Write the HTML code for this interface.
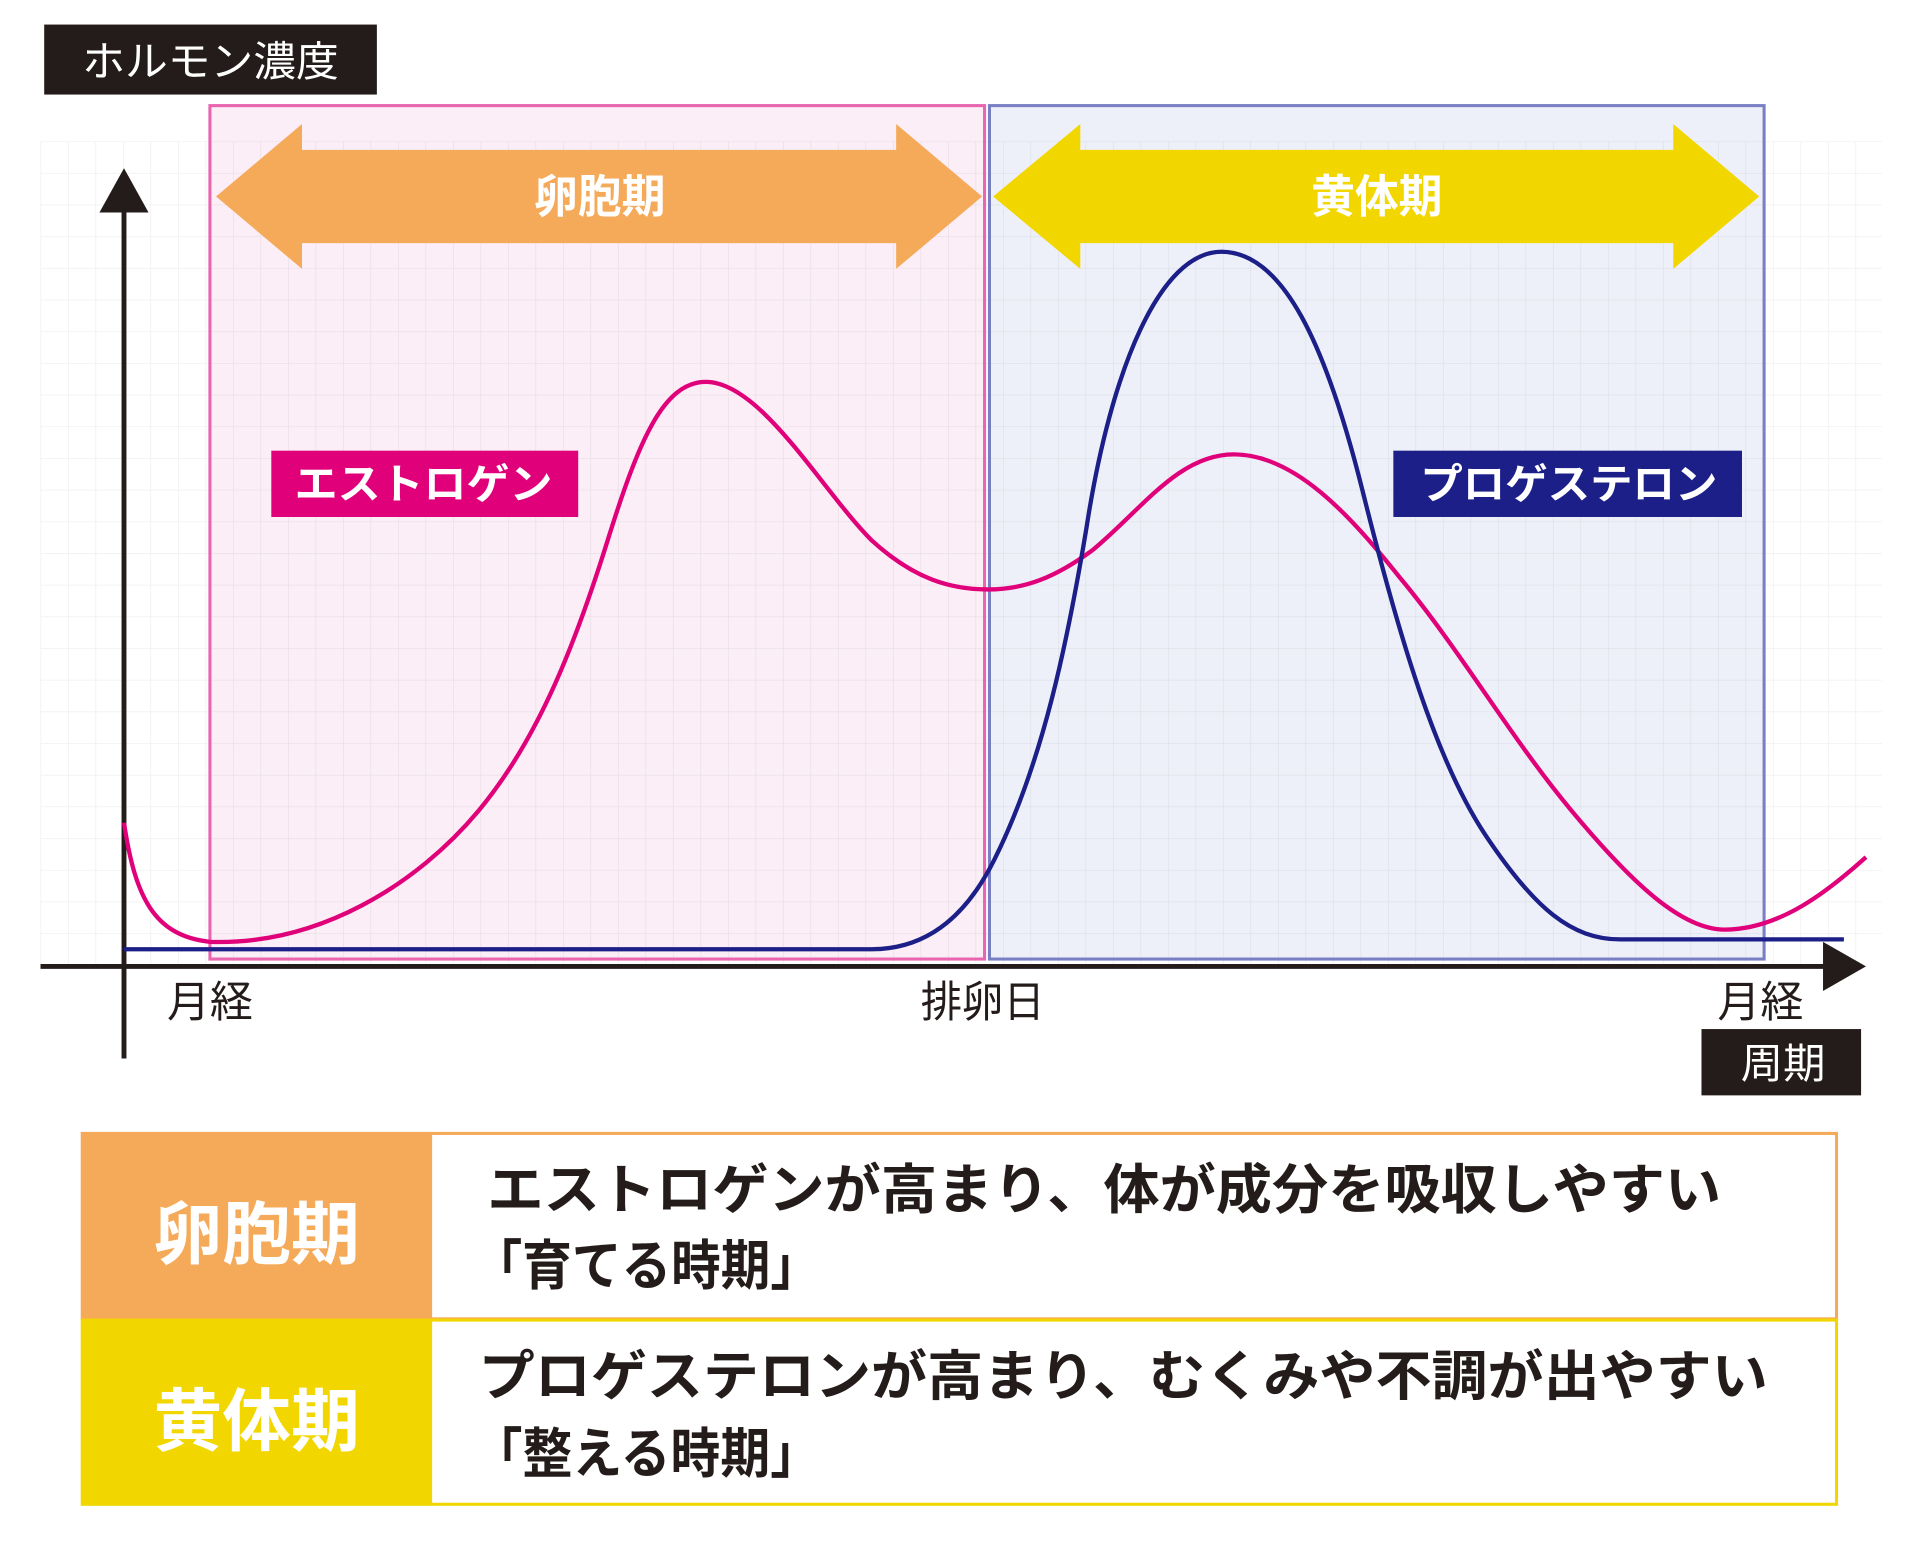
<!DOCTYPE html>
<html><head><meta charset="utf-8"><style>html,body{margin:0;padding:0;background:#fff}svg{display:block}</style></head>
<body>
<svg width="1920" height="1562" viewBox="0 0 1564 1272" preserveAspectRatio="none" xmlns="http://www.w3.org/2000/svg" font-family="'Liberation Sans','Noto Sans CJK JP',sans-serif">
<defs>
<pattern id="g" x="33" y="115" width="22.4" height="25.8" patternUnits="userSpaceOnUse">
<path d="M0 0H22.4M0 0V25.8" fill="none" stroke="rgba(0,0,0,0.07)" stroke-width="1"/>
</pattern>
</defs>
<rect x="171" y="86" width="631" height="695" fill="#fbeef6"/>
<rect x="806" y="86" width="631" height="695" fill="#eef0f9"/>
<rect x="33" y="115" width="1500" height="670" fill="url(#g)"/>
<rect x="171" y="86" width="631" height="695" fill="none" stroke="#e965b0" stroke-width="2.5"/>
<rect x="806" y="86" width="631" height="695" fill="none" stroke="#7a7fc4" stroke-width="2.5"/>

<rect x="36" y="20" width="271" height="57" fill="#231c1a"/>
<text x="67" y="62" font-size="34" fill="#fff" textLength="209" lengthAdjust="spacingAndGlyphs">ホルモン濃度</text>

<polygon points="176,160 246,101 246,122 730,122 730,101 800,160 730,219 730,198 246,198 246,219" fill="#f5aa5a"/>
<text x="435" y="173" font-size="37" font-weight="bold" fill="#fff" textLength="107" lengthAdjust="spacingAndGlyphs">卵胞期</text>
<polygon points="809,160 880,101 880,122 1363,122 1363,101 1433,160 1363,219 1363,198 880,198 880,219" fill="#f2d600"/>
<text x="1068" y="173" font-size="37" font-weight="bold" fill="#fff" textLength="107" lengthAdjust="spacingAndGlyphs">黄体期</text>

<line x1="101" y1="862" x2="101" y2="168" stroke="#231c1a" stroke-width="4"/>
<polygon points="101,137 81,173 121,173" fill="#231c1a"/>
<line x1="33" y1="787" x2="1488" y2="787" stroke="#231c1a" stroke-width="4"/>
<polygon points="1520,787 1485,767 1485,807" fill="#231c1a"/>

<path d="M101,670 C110,730 125,762 171,767 C260,770 340,720 390,660 C440,600 470,520 495,440 C520,360 540,311 575,311 C620,311 670,400 710,440 C745,472 775,480 805,480 C835,480 860,470 890,448 C930,415 960,370 1005,370 C1055,370 1100,420 1140,470 C1190,530 1230,600 1280,660 C1330,720 1370,757 1405,757 C1450,757 1490,725 1520,698" fill="none" stroke="#e0007a" stroke-width="3.5"/>
<path d="M101,773 L710,773 C760,773 790,740 810,700 C850,620 870,520 885,430 C905,300 945,205 995,205 C1045,205 1080,280 1110,400 C1140,520 1170,620 1210,680 C1250,740 1280,765 1320,765 L1502,765" fill="none" stroke="#1b1f87" stroke-width="3.5"/>

<rect x="221" y="367" width="250" height="54" fill="#e0007a"/>
<text x="240" y="406" font-size="34" font-weight="bold" fill="#fff" textLength="210" lengthAdjust="spacingAndGlyphs">エストロゲン</text>
<rect x="1135" y="367" width="284" height="54" fill="#1b1f87"/>
<text x="1157" y="406" font-size="34" font-weight="bold" fill="#fff" textLength="242" lengthAdjust="spacingAndGlyphs">プロゲステロン</text>

<text x="136" y="828" font-size="35" fill="#231c1a" textLength="70" lengthAdjust="spacingAndGlyphs">月経</text>
<text x="750" y="828" font-size="35" fill="#231c1a" textLength="101" lengthAdjust="spacingAndGlyphs">排卵日</text>
<text x="1399" y="828" font-size="35" fill="#231c1a" textLength="70" lengthAdjust="spacingAndGlyphs">月経</text>
<rect x="1386" y="838" width="130" height="54" fill="#231c1a"/>
<text x="1418" y="878" font-size="34" fill="#fff" textLength="69" lengthAdjust="spacingAndGlyphs">周期</text>

<rect x="66" y="922" width="286" height="152" fill="#f5aa5a"/>
<rect x="67" y="923" width="1429" height="151" fill="none" stroke="#f5aa5a" stroke-width="2.5"/>
<rect x="66" y="1074" width="286" height="152" fill="#f2d600"/>
<rect x="67" y="1075" width="1429" height="150" fill="none" stroke="#f2d600" stroke-width="2.5"/>
<text x="125" y="1025" font-size="56" font-weight="bold" fill="#fff" textLength="168" lengthAdjust="spacingAndGlyphs">卵胞期</text>
<text x="125" y="1177" font-size="56" font-weight="bold" fill="#fff" textLength="168" lengthAdjust="spacingAndGlyphs">黄体期</text>
<text x="397" y="984" font-size="44" font-weight="bold" fill="#231c1a" textLength="1005" lengthAdjust="spacingAndGlyphs">エストロゲンが高まり、体が成分を吸収しやすい</text>
<text x="385" y="1046" font-size="44" font-weight="bold" fill="#231c1a" textLength="283" lengthAdjust="spacingAndGlyphs">「育てる時期」</text>
<text x="390" y="1136" font-size="44" font-weight="bold" fill="#231c1a" textLength="1050" lengthAdjust="spacingAndGlyphs">プロゲステロンが高まり、むくみや不調が出やすい</text>
<text x="385" y="1199" font-size="44" font-weight="bold" fill="#231c1a" textLength="283" lengthAdjust="spacingAndGlyphs">「整える時期」</text>
</svg>
</body></html>
